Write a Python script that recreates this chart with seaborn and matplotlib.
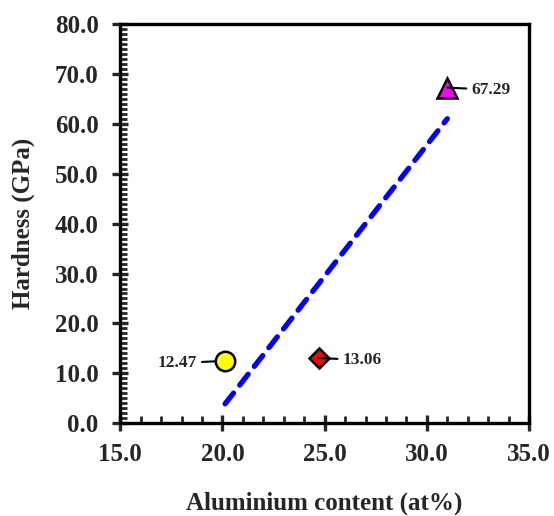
import matplotlib
matplotlib.use("Agg")
import matplotlib.pyplot as plt
import seaborn as sns
import pandas as pd
from matplotlib.ticker import MultipleLocator, FormatStrFormatter

# data
al_content = [20.13, 24.7, 31.0]
hardness = [12.47, 13.06, 67.29]
labels = ["12.47", "13.06", "67.29"]
markers = ["o", "D", "^"]
colors = ["#ffff00", "#ff0000", "#ff00ff"]
sizes = [14, 10, 15]
label_dx = [-20, 17, 17]
line_shrink = [7, 0, 0]

df = pd.DataFrame({"al": al_content, "hv": hardness})

sns.set_style("ticks")
plt.rcParams["font.family"] = ["Liberation Serif", "DejaVu Serif"]
plt.rcParams["font.weight"] = "bold"

fig, ax = plt.subplots(figsize=(5.54, 5.16), dpi=100)
fig.subplots_adjust(left=0.217, right=0.955, top=0.953, bottom=0.18)

# linear trend line over the data
sns.regplot(data=df, x="al", y="hv", scatter=False, ci=None, truncate=True,
            color="#0000ff", line_kws={"lw": 3.8, "ls": (0, (2.6, 1.9)),
                                       "dash_capstyle": "round"}, ax=ax)

for x, y, m, c, s, lab, dx, sh in zip(al_content, hardness, markers, colors,
                                      sizes, labels, label_dx, line_shrink):
    ax.plot(x, y, marker=m, ms=s, mfc=c, mec="black", mew=1.8, ls="none",
            zorder=5)
    ax.annotate(lab, xy=(x, y), xytext=(dx, 0), textcoords="offset points",
                fontsize=12.5, fontweight="bold", va="center_baseline",
                ha="left" if dx > 0 else "right", zorder=6,
                arrowprops=dict(arrowstyle="-", color="black", lw=1.5,
                                shrinkA=1, shrinkB=sh))

ax.set_xlim(15, 35)
ax.set_ylim(0, 80)
ax.xaxis.set_major_locator(MultipleLocator(5))
ax.xaxis.set_minor_locator(MultipleLocator(1))
ax.yaxis.set_major_locator(MultipleLocator(10))
ax.yaxis.set_minor_locator(MultipleLocator(1))
ax.xaxis.set_major_formatter(FormatStrFormatter("%.1f"))
ax.yaxis.set_major_formatter(FormatStrFormatter("%.1f"))

for sp in ax.spines.values():
    sp.set_linewidth(2.4)
    sp.set_color("black")

ax.tick_params(which="major", direction="inout", length=11, width=2.4,
               labelsize=18)
ax.tick_params(axis="y", which="major", pad=10)
ax.tick_params(axis="x", which="major", pad=9)
ax.tick_params(which="minor", direction="in", length=5, width=2.0)
for t in ax.get_xticklabels() + ax.get_yticklabels():
    t.set_fontweight("bold")

ax.set_xlabel("Aluminium content (at%)", fontsize=18, fontweight="bold",
              labelpad=18)
ax.set_ylabel("Hardness (GPa)", fontsize=18, fontweight="bold", labelpad=14)

fig.savefig("out.png", dpi=100)
